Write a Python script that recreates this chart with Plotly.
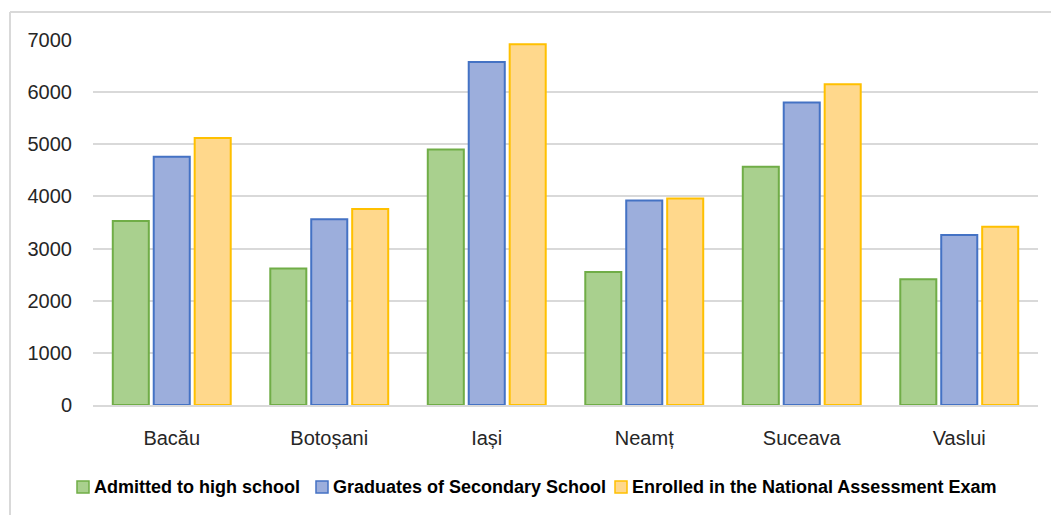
import plotly.graph_objects as go

categories = ["Bacău", "Botoșani", "Iași", "Neamț", "Suceava", "Vaslui"]
admitted = [3530, 2620, 4900, 2550, 4570, 2410]
graduates = [4760, 3560, 6580, 3920, 5800, 3260]
enrolled = [5120, 3760, 6920, 3960, 6150, 3420]
series_names = ["Admitted to high school", "Graduates of Secondary School",
                "Enrolled in the National Assessment Exam"]
y_ticks = [0, 1000, 2000, 3000, 4000, 5000, 6000, 7000]

fills = ["#A9D08E", "#9CAEDC", "#FFD88C"]
lines = ["#70AD47", "#4472C4", "#FFC000"]

W, H = 1051, 515
L, R, T, B = 93, 13, 40, 110
PW, PH = W - L - R, H - T - B


def px(x):
    return (x - L) / PW


def py(y):
    return (H - B - y) / PH


fig = go.Figure()
for name, vals, fc, lc in zip(series_names, [admitted, graduates, enrolled], fills, lines):
    fig.add_trace(go.Bar(
        x=categories, y=vals, name=name, showlegend=False,
        marker=dict(color=fc, line=dict(color=lc, width=2)),
    ))

shapes = [
    dict(type="line", xref="paper", yref="paper", x0=px(10), x1=px(W),
         y0=py(12), y1=py(12), line=dict(color="#D9D9D9", width=2)),
    dict(type="line", xref="paper", yref="paper", x0=px(10), x1=px(10),
         y0=py(12), y1=py(H), line=dict(color="#D9D9D9", width=2)),
]
annotations = []
legend_sq_x = [77, 316, 615]
for name, fc, lc, sx in zip(series_names, fills, lines, legend_sq_x):
    shapes.append(dict(type="rect", xref="paper", yref="paper",
                       x0=px(sx), x1=px(sx + 12), y0=py(493), y1=py(481),
                       fillcolor=fc, line=dict(color=lc, width=1.5)))
    annotations.append(dict(text=name, xref="paper", yref="paper",
                            x=px(sx + 15), y=py(487), xanchor="left", yanchor="middle",
                            showarrow=False,
                            font=dict(family="Liberation Sans, Arial, sans-serif",
                                      size=18, color="#000000", weight="bold")))

fig.update_layout(
    width=W, height=H,
    margin=dict(l=L, r=R, t=T, b=B),
    paper_bgcolor="white", plot_bgcolor="white",
    barmode="group", bargap=0.22, bargroupgap=0.12,
    font=dict(family="Liberation Sans, Arial, sans-serif", size=20, color="#262626"),
    showlegend=False,
    xaxis=dict(showgrid=False, showline=True, linecolor="#D9D9D9", linewidth=2,
               ticks="", ticklabelstandoff=14, tickfont=dict(size=20, color="#262626")),
    yaxis=dict(range=[0, 7000], tickvals=y_ticks, showgrid=True, gridcolor="#D9D9D9",
               gridwidth=2, zeroline=False, showline=False, ticks="",
               ticklabelstandoff=20, tickfont=dict(size=20, color="#262626")),
    shapes=shapes,
    annotations=annotations,
)

fig.write_html("out.html")
